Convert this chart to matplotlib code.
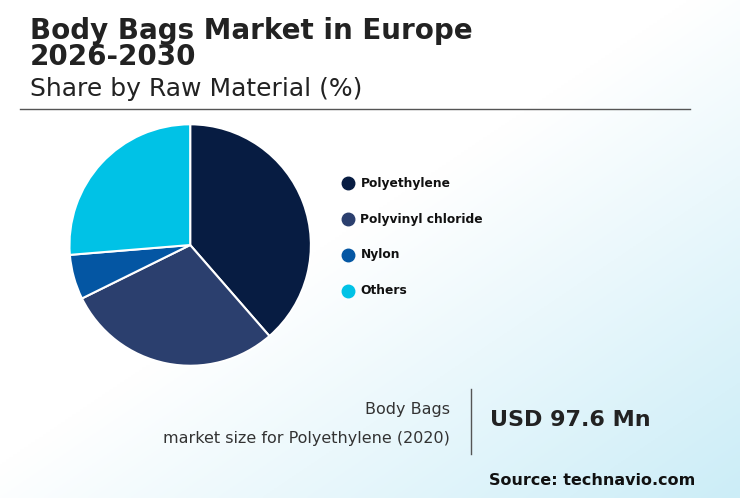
import matplotlib
matplotlib.use("Agg")
import matplotlib.pyplot as plt
import numpy as np

categories = ["Polyethylene", "Polyvinyl chloride", "Nylon", "Others"]
shares = [38.6, 29.1, 6.0, 26.3]
colors = ["#071c42", "#2b3f6e", "#0456a3", "#00c2e6"]

fig = plt.figure(figsize=(7.4, 4.98), dpi=100)
bg = fig.add_axes([0, 0, 1, 1], zorder=-10)
x = np.linspace(0, 1, 200)
y = np.linspace(0, 1, 200)
X, Y = np.meshgrid(x, y)
t = np.clip((X * 0.8 + Y * 0.8) - 0.75, 0, 1) / 0.85
c0 = np.array([1, 1, 1]); c1 = np.array([0.80, 0.93, 0.97])
img = c0 + (c1 - c0) * t[..., None]
bg.imshow(img, extent=[0, 1, 0, 1], aspect="auto", origin="upper")
bg.axis("off")

fig.text(0.04, 0.857, "Body Bags Market in Europe\n2026-2030", fontsize=20, fontweight="bold",
         color="#222222", va="bottom", linespacing=0.92)
fig.text(0.04, 0.822, "Share by Raw Material (%)", fontsize=18, color="#222222", va="center")
fig.add_artist(plt.Line2D([0.027, 0.932], [0.781, 0.781], color="#555555", lw=1))

ax = fig.add_axes([0.053, 0.205, 0.408, 0.606])
ax.pie(shares, colors=colors, startangle=90, counterclock=False,
       wedgeprops=dict(edgecolor="white", linewidth=1.5))
ax.set_aspect("equal")

ly = [0.632, 0.56, 0.488, 0.416]
for cat, col, yy in zip(categories, colors, ly):
    fig.add_artist(plt.Line2D([0.47], [yy], marker="o", markersize=9, color=col, lw=0))
    fig.text(0.487, yy, cat, fontsize=8.8, fontweight="bold", va="center", color="#111111")

fig.text(0.608, 0.178, "Body Bags", fontsize=11.5, ha="right", va="center", color="#333333")
fig.text(0.608, 0.12, "market size for Polyethylene (2020)", fontsize=11.5, ha="right", va="center", color="#333333")
fig.add_artist(plt.Line2D([0.636, 0.636], [0.088, 0.218], color="#555555", lw=1))
fig.text(0.662, 0.157, "USD 97.6 Mn", fontsize=16, fontweight="bold", va="center", color="#222222")
fig.text(0.94, 0.036, "Source: technavio.com", fontsize=11.5, fontweight="bold", ha="right", va="center", color="#111111")

fig.savefig("out.png", dpi=100)
